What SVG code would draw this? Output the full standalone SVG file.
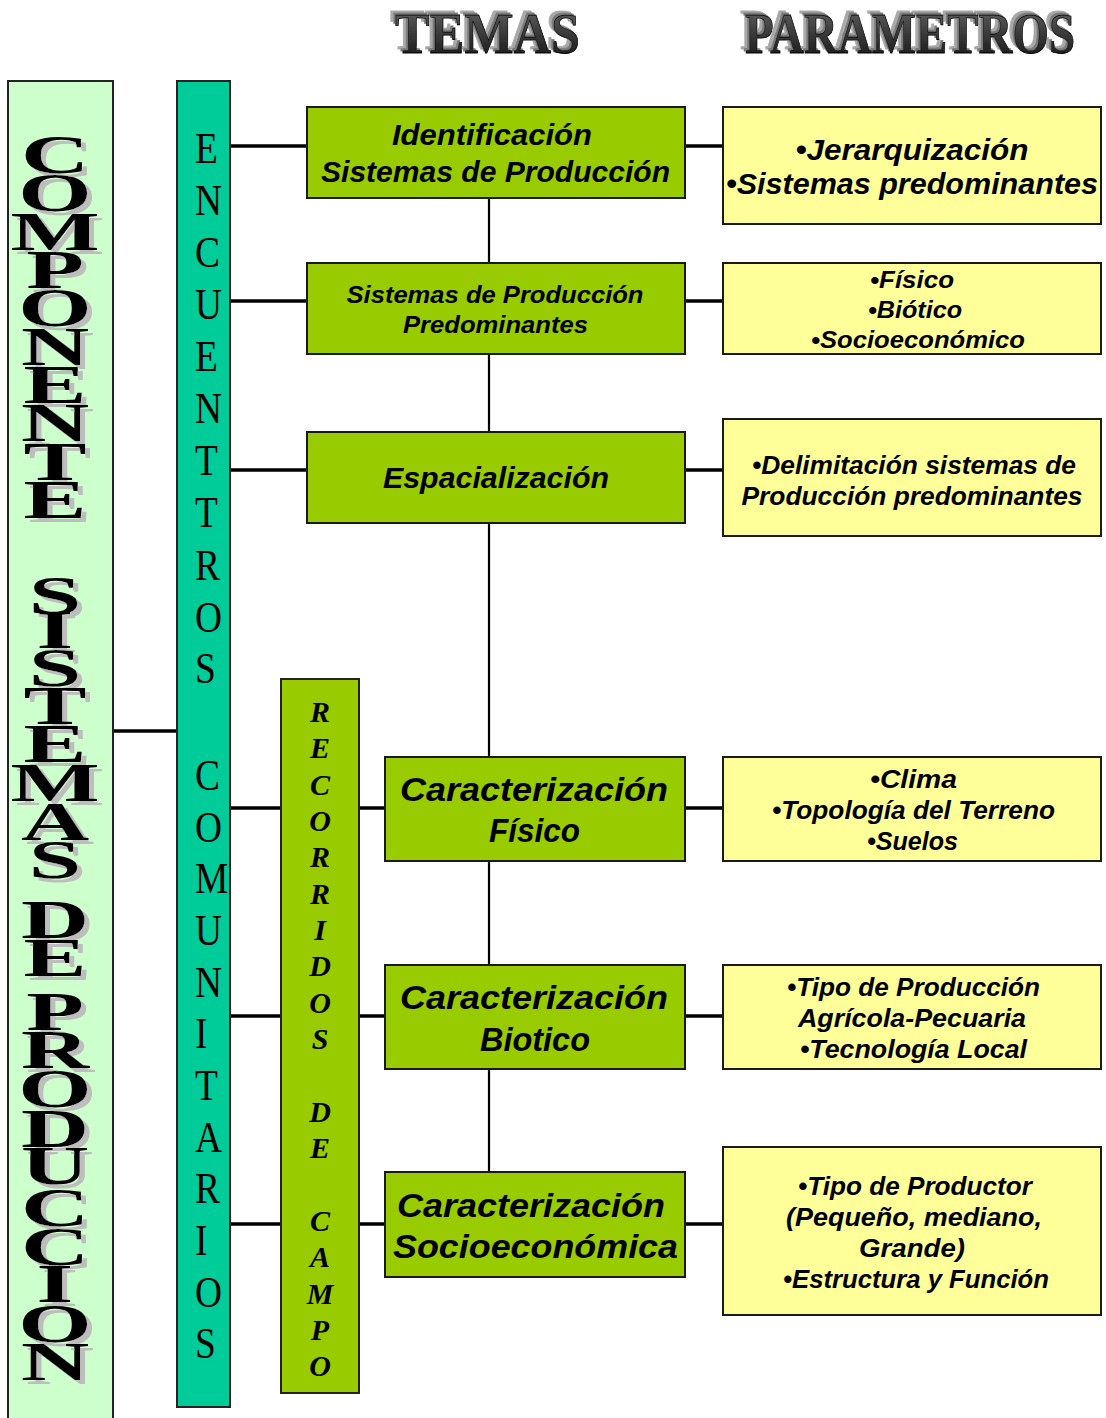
<svg xmlns="http://www.w3.org/2000/svg" width="1106" height="1418" viewBox="0 0 1106 1418">
<defs>
<linearGradient id="tg" x1="0" y1="0" x2="0" y2="1">
<stop offset="0" stop-color="#6a6a6a"/>
<stop offset="0.5" stop-color="#3a3a3a"/>
<stop offset="1" stop-color="#111"/>
</linearGradient>
<filter id="sh3d" x="-10%" y="-30%" width="120%" height="160%">
<feOffset in="SourceAlpha" dx="-5" dy="-4" result="o1"/>
<feFlood flood-color="#a8a8a8"/>
<feComposite in2="o1" operator="in" result="s1"/>
<feOffset in="SourceAlpha" dx="-2.5" dy="-2" result="o2"/>
<feFlood flood-color="#7a7a7a"/>
<feComposite in2="o2" operator="in" result="s2"/>
<feMerge><feMergeNode in="s1"/><feMergeNode in="s2"/><feMergeNode in="SourceGraphic"/></feMerge>
</filter>
<filter id="shgray" x="-20%" y="-5%" width="150%" height="110%">
<feOffset in="SourceAlpha" dx="3" dy="4" result="o1"/>
<feFlood flood-color="#bdbdbd"/>
<feComposite in2="o1" operator="in" result="s1"/>
<feMerge><feMergeNode in="s1"/><feMergeNode in="SourceGraphic"/></feMerge>
</filter>
<style>
.bg{fill:#fff}
.col-a{fill:#CCFFCC;stroke:#222;stroke-width:2}
.col-b{fill:#00CC99;stroke:#222;stroke-width:2}
.col-c{fill:#99CC00;stroke:#222;stroke-width:2}
.tema{fill:#99CC00;stroke:#1a1a1a;stroke-width:2}
.param{fill:#FFFF99;stroke:#1a1a1a;stroke-width:2}
.conn{stroke:#000;stroke-width:3.5;fill:none}
.spine{stroke:#000;stroke-width:2.2;fill:none}
.t{font-family:"Liberation Sans","DejaVu Sans",sans-serif;font-weight:bold;font-style:italic;fill:#000;text-anchor:middle}
.big{font-family:"Liberation Serif","DejaVu Serif",serif;font-weight:bold;text-anchor:middle;font-size:54px;fill:#000}
.enc{font-family:"Liberation Serif","DejaVu Serif",serif;font-size:44px;fill:#000}
.rec{font-family:"Liberation Serif","DejaVu Serif",serif;font-size:30px;font-weight:bold;font-style:italic;fill:#000;text-anchor:middle}
.ttl{font-family:"Liberation Serif","DejaVu Serif",serif;font-weight:bold;font-size:58px}
</style>
</defs>
<rect class="bg" x="0" y="0" width="1106" height="1418"/>

<g id="titles">
<text id="title-temas" class="ttl" x="395" y="53" textLength="185" lengthAdjust="spacingAndGlyphs" fill="url(#tg)" stroke="#000" stroke-width="0.8" filter="url(#sh3d)">TEMAS</text>
<text id="title-parametros" class="ttl" x="745" y="53" textLength="330" lengthAdjust="spacingAndGlyphs" fill="url(#tg)" stroke="#000" stroke-width="0.8" filter="url(#sh3d)">PARAMETROS</text>
</g>

<g id="connectors">
<line class="spine" x1="489" y1="198" x2="489" y2="1172"/>
<line class="conn" x1="113" y1="731" x2="177" y2="731"/>
<line class="conn" x1="230" y1="146" x2="307" y2="146"/>
<line class="conn" x1="230" y1="301" x2="307" y2="301"/>
<line class="conn" x1="230" y1="470" x2="307" y2="470"/>
<line class="conn" x1="230" y1="808" x2="281" y2="808"/>
<line class="conn" x1="230" y1="1016" x2="281" y2="1016"/>
<line class="conn" x1="230" y1="1224" x2="281" y2="1224"/>
<line class="conn" x1="359" y1="808" x2="385" y2="808"/>
<line class="conn" x1="359" y1="1016" x2="385" y2="1016"/>
<line class="conn" x1="359" y1="1224" x2="385" y2="1224"/>
<line class="conn" x1="685" y1="146" x2="723" y2="146"/>
<line class="conn" x1="685" y1="301" x2="723" y2="301"/>
<line class="conn" x1="685" y1="470" x2="723" y2="470"/>
<line class="conn" x1="685" y1="808" x2="723" y2="808"/>
<line class="conn" x1="685" y1="1016" x2="723" y2="1016"/>
<line class="conn" x1="685" y1="1224" x2="723" y2="1224"/>
</g>

<g id="componente">
<rect class="col-a" x="8" y="81" width="105" height="1345"/>
<g transform="translate(55 0) scale(1.75 1)" filter="url(#shgray)">
<text class="big"><tspan x="0" y="173">C</tspan><tspan x="0" y="211">O</tspan><tspan x="0" y="250">M</tspan><tspan x="0" y="288">P</tspan><tspan x="0" y="326">O</tspan><tspan x="0" y="365">N</tspan><tspan x="0" y="403">E</tspan><tspan x="0" y="441">N</tspan><tspan x="0" y="480">T</tspan><tspan x="0" y="518">E</tspan></text>
<text class="big"><tspan x="0" y="614">S</tspan><tspan x="0" y="648">I</tspan><tspan x="0" y="686">S</tspan><tspan x="0" y="724">T</tspan><tspan x="0" y="762">E</tspan><tspan x="0" y="801">M</tspan><tspan x="0" y="840">A</tspan><tspan x="0" y="878">S</tspan></text>
<text class="big"><tspan x="0" y="938">D</tspan><tspan x="0" y="976">E</tspan></text>
<text class="big"><tspan x="0" y="1030">P</tspan><tspan x="0" y="1068">R</tspan><tspan x="0" y="1107">O</tspan><tspan x="0" y="1147">D</tspan><tspan x="0" y="1184">U</tspan><tspan x="0" y="1226">C</tspan><tspan x="0" y="1265">C</tspan><tspan x="0" y="1302">I</tspan><tspan x="0" y="1342">O</tspan><tspan x="0" y="1380">N</tspan></text>
</g>
</g>

<g id="encuentros">
<rect class="col-b" x="177" y="81" width="53" height="1326"/>
<g transform="translate(195 0) scale(0.85 1)">
<text class="enc"><tspan x="0" y="163">E</tspan><tspan x="0" y="215">N</tspan><tspan x="0" y="267">C</tspan><tspan x="0" y="319">U</tspan><tspan x="0" y="371">E</tspan><tspan x="0" y="423">N</tspan><tspan x="0" y="475">T</tspan><tspan x="0" y="527">T</tspan><tspan x="0" y="580">R</tspan><tspan x="0" y="632">O</tspan><tspan x="0" y="683">S</tspan></text>
<text class="enc"><tspan x="0" y="790">C</tspan><tspan x="0" y="842">O</tspan><tspan x="0" y="893">M</tspan><tspan x="0" y="945">U</tspan><tspan x="0" y="997">N</tspan><tspan x="0" y="1048">I</tspan><tspan x="0" y="1100">T</tspan><tspan x="0" y="1152">A</tspan><tspan x="0" y="1203">R</tspan><tspan x="0" y="1255">I</tspan><tspan x="0" y="1307">O</tspan><tspan x="0" y="1358">S</tspan></text>
</g>
</g>

<g id="recorridos">
<rect class="col-c" x="281" y="679" width="78" height="714"/>
<text class="rec"><tspan x="320" y="722">R</tspan><tspan x="320" y="758">E</tspan><tspan x="320" y="795">C</tspan><tspan x="320" y="831">O</tspan><tspan x="320" y="867">R</tspan><tspan x="320" y="904">R</tspan><tspan x="320" y="940">I</tspan><tspan x="320" y="976">D</tspan><tspan x="320" y="1013">O</tspan><tspan x="320" y="1049">S</tspan></text>
<text class="rec"><tspan x="320" y="1122">D</tspan><tspan x="320" y="1158">E</tspan></text>
<text class="rec"><tspan x="320" y="1231">C</tspan><tspan x="320" y="1267">A</tspan><tspan x="320" y="1304">M</tspan><tspan x="320" y="1340">P</tspan><tspan x="320" y="1376">O</tspan></text>
</g>

<g id="tema-1">
<rect class="tema" x="307" y="107" width="378" height="91"/>
<text class="t" x="492" y="145" font-size="29" textLength="200" lengthAdjust="spacingAndGlyphs">Identificación</text>
<text class="t" x="495.5" y="182" font-size="29" textLength="349" lengthAdjust="spacingAndGlyphs">Sistemas de Producción</text>
</g>
<g id="tema-2">
<rect class="tema" x="307" y="263" width="378" height="91"/>
<text class="t" x="495" y="303" font-size="24" textLength="297" lengthAdjust="spacingAndGlyphs">Sistemas de Producción</text>
<text class="t" x="495.5" y="333" font-size="24" textLength="185" lengthAdjust="spacingAndGlyphs">Predominantes</text>
</g>
<g id="tema-3">
<rect class="tema" x="307" y="432" width="378" height="91"/>
<text class="t" x="496" y="488" font-size="29" textLength="226" lengthAdjust="spacingAndGlyphs">Espacialización</text>
</g>
<g id="tema-4">
<rect class="tema" x="385" y="757" width="300" height="104"/>
<text class="t" x="534" y="801" font-size="34" textLength="268" lengthAdjust="spacingAndGlyphs">Caracterización</text>
<text class="t" x="534.5" y="842" font-size="34" textLength="91" lengthAdjust="spacingAndGlyphs">Físico</text>
</g>
<g id="tema-5">
<rect class="tema" x="385" y="965" width="300" height="104"/>
<text class="t" x="534" y="1009" font-size="34" textLength="268" lengthAdjust="spacingAndGlyphs">Caracterización</text>
<text class="t" x="535" y="1051" font-size="34" textLength="110" lengthAdjust="spacingAndGlyphs">Biotico</text>
</g>
<g id="tema-6">
<rect class="tema" x="385" y="1172" width="300" height="105"/>
<text class="t" x="531" y="1217" font-size="34" textLength="268" lengthAdjust="spacingAndGlyphs">Caracterización</text>
<text class="t" x="535.5" y="1258" font-size="34" textLength="285" lengthAdjust="spacingAndGlyphs">Socioeconómica</text>
</g>

<g id="param-1">
<rect class="param" x="723" y="107" width="378" height="117"/>
<text class="t" x="912" y="160" font-size="29" textLength="233" lengthAdjust="spacingAndGlyphs">•Jerarquización</text>
<text class="t" x="912" y="194" font-size="29" textLength="372" lengthAdjust="spacingAndGlyphs">•Sistemas predominantes</text>
</g>
<g id="param-2">
<rect class="param" x="723" y="263" width="378" height="91"/>
<text class="t" x="912" y="288" font-size="24" textLength="84" lengthAdjust="spacingAndGlyphs">•Físico</text>
<text class="t" x="915" y="318" font-size="24" textLength="94" lengthAdjust="spacingAndGlyphs">•Biótico</text>
<text class="t" x="918" y="348" font-size="24" textLength="214" lengthAdjust="spacingAndGlyphs">•Socioeconómico</text>
</g>
<g id="param-3">
<rect class="param" x="723" y="419" width="378" height="117"/>
<text class="t" x="914" y="474" font-size="25" textLength="324" lengthAdjust="spacingAndGlyphs">•Delimitación sistemas de</text>
<text class="t" x="912" y="505" font-size="25" textLength="341" lengthAdjust="spacingAndGlyphs">Producción predominantes</text>
</g>
<g id="param-4">
<rect class="param" x="723" y="757" width="378" height="104"/>
<text class="t" x="913.5" y="788" font-size="25" textLength="87" lengthAdjust="spacingAndGlyphs">•Clima</text>
<text class="t" x="913.5" y="819" font-size="25" textLength="283" lengthAdjust="spacingAndGlyphs">•Topología del Terreno</text>
<text class="t" x="912.5" y="850" font-size="25" textLength="91" lengthAdjust="spacingAndGlyphs">•Suelos</text>
</g>
<g id="param-5">
<rect class="param" x="723" y="965" width="378" height="104"/>
<text class="t" x="913.5" y="996" font-size="25" textLength="253" lengthAdjust="spacingAndGlyphs">•Tipo de Producción</text>
<text class="t" x="912" y="1027" font-size="25" textLength="228" lengthAdjust="spacingAndGlyphs">Agrícola-Pecuaria</text>
<text class="t" x="913.5" y="1058" font-size="25" textLength="227" lengthAdjust="spacingAndGlyphs">•Tecnología Local</text>
</g>
<g id="param-6">
<rect class="param" x="723" y="1147" width="378" height="168"/>
<text class="t" x="915" y="1195" font-size="25" textLength="234" lengthAdjust="spacingAndGlyphs">•Tipo de Productor</text>
<text class="t" x="914" y="1226" font-size="25" textLength="256" lengthAdjust="spacingAndGlyphs">(Pequeño, mediano,</text>
<text class="t" x="912" y="1257" font-size="25" textLength="106" lengthAdjust="spacingAndGlyphs">Grande)</text>
<text class="t" x="916" y="1288" font-size="25" textLength="266" lengthAdjust="spacingAndGlyphs">•Estructura y Función</text>
</g>
</svg>
